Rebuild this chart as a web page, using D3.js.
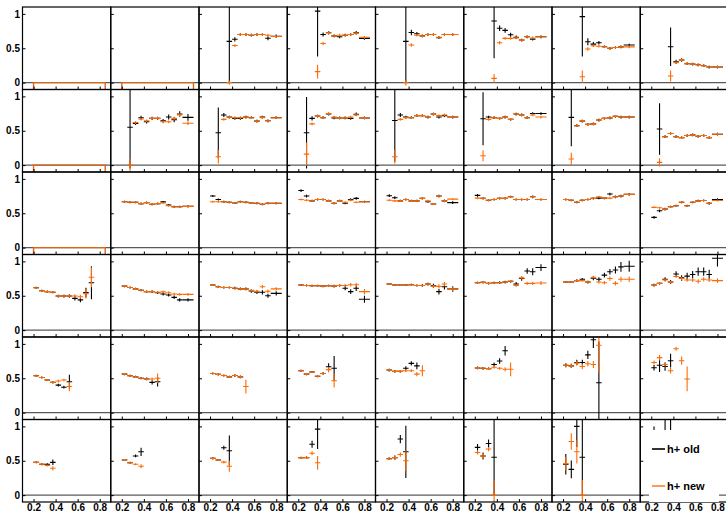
<!DOCTYPE html>
<html><head><meta charset="utf-8">
<script src="https://cdn.jsdelivr.net/npm/d3@7"></script>
<style>body{margin:0;background:#fff}svg{display:block}</style>
</head><body><svg id="c" width="726" height="514"></svg>
<script>
const n = null;
const binCenters = [0.225,0.275,0.325,0.375,0.425,0.475,0.525,0.575,0.625,0.675,0.725,0.8];
const binHalf    = [0.025,0.025,0.025,0.025,0.025,0.025,0.025,0.025,0.025,0.025,0.025,0.05];
const xTicks = [0.2,0.4,0.6,0.8];
const xTickLabels = ["0.2","0.4","0.6","0.8"];
const yTicks = [0,0.5,1];
const yTickLabels = ["0","0.5","1"];
const seriesNames = ["h+ old","h+ new"];
const emptyPanels = [[0,0],[0,1],[1,0],[2,0]];
const emptyRange = [0.2,0.85];

// ---- row 1
const oldR1 = [[],[],
 [n,n,n,0.6,0.63,0.70,0.70,0.69,0.70,0.70,0.645,0.675],
 [n,n,n,1.04,0.70,0.726,0.68,0.667,0.69,0.70,0.726,0.644],
 [n,n,n,0.6,0.73,0.71,0.68,0.70,0.70,0.653,0.70,0.70],
 [n,n,n,0.896,0.79,0.76,0.697,0.66,0.62,0.667,0.633,0.667],
 [n,n,n,0.96,0.595,0.56,0.58,0.522,0.50,0.51,0.52,0.547],
 [n,n,n,0.522,0.304,0.33,0.275,0.27,0.26,0.246,0.227,0.227]];
const oldErrR1 = [[],[],
 [n,n,n,0.6,0.03,0.02,0.02,0.02,0.02,0.02,0.03,0.025],
 [n,n,n,0.66,0.03,0.025,0.02,0.02,0.02,0.02,0.025,0.02],
 [n,n,n,0.6,0.04,0.025,0.02,0.02,0.02,0.02,0.02,0.02],
 [n,n,n,0.54,0.04,0.035,0.03,0.025,0.02,0.02,0.02,0.02],
 [n,n,n,0.58,0.05,0.03,0.025,0.02,0.02,0.02,0.02,0.02],
 [n,n,n,0.28,0.03,0.025,0.02,0.02,0.02,0.02,0.02,0.02]];
const newR1 = [[],[],
 [n,n,n,0.0,0.54,0.70,0.70,0.69,0.70,0.70,0.69,0.67],
 [n,n,n,0.16,0.57,0.726,0.68,0.69,0.69,0.70,0.716,0.66],
 [n,n,n,0.0,0.547,0.69,0.68,0.70,0.70,0.66,0.70,0.70],
 [n,n,n,0.062,0.58,0.644,0.644,0.65,0.62,0.667,0.65,0.667],
 [n,n,n,0.086,0.49,0.537,0.53,0.522,0.50,0.51,0.52,0.52],
 [n,n,n,0.096,0.29,0.33,0.275,0.27,0.26,0.246,0.227,0.227]];
const newErrR1 = [[],[],
 [n,n,n,0.03,0.02,0.02,0.02,0.02,0.02,0.02,0.02,0.02],
 [n,n,n,0.1,0.025,0.02,0.02,0.02,0.02,0.02,0.02,0.02],
 [n,n,n,0.04,0.025,0.02,0.02,0.02,0.02,0.02,0.02,0.02],
 [n,n,n,0.063,0.025,0.02,0.02,0.02,0.02,0.02,0.02,0.02],
 [n,n,n,0.09,0.025,0.02,0.02,0.02,0.02,0.02,0.02,0.02],
 [n,n,n,0.08,0.02,0.02,0.02,0.02,0.02,0.02,0.02,0.02]];

// ---- row 2
const oldR2 = [[],
 [n,0.55,0.608,0.69,0.63,0.68,0.68,0.645,0.70,0.66,0.743,0.695],
 [n,0.47,0.73,0.70,0.68,0.68,0.70,0.69,0.64,0.70,0.645,0.69],
 [n,0.47,0.68,0.714,0.69,0.743,0.686,0.686,0.686,0.68,0.74,0.686],
 [n,0.65,0.73,0.70,0.69,0.72,0.72,0.70,0.743,0.70,0.72,0.70],
 [n,0.675,0.70,0.69,0.68,0.70,0.665,0.743,0.73,0.69,0.75,0.75],
 [n,0.695,0.573,0.64,0.593,0.60,0.656,0.68,0.686,0.71,0.70,0.70],
 [n,0.525,0.413,0.46,0.413,0.40,0.43,0.44,0.42,0.43,0.40,0.45]];
const oldErrR2 = [[],
 [n,0.6,0.025,0.03,0.025,0.025,0.025,0.025,0.035,0.035,0.04,0.05],
 [n,0.37,0.03,0.02,0.02,0.02,0.02,0.02,0.02,0.02,0.02,0.02],
 [n,0.52,0.03,0.02,0.02,0.02,0.02,0.02,0.02,0.02,0.025,0.02],
 [n,0.6,0.03,0.02,0.02,0.02,0.02,0.02,0.02,0.02,0.02,0.02],
 [n,0.385,0.02,0.02,0.02,0.02,0.02,0.02,0.02,0.02,0.02,0.02],
 [n,0.42,0.02,0.02,0.02,0.02,0.02,0.02,0.02,0.02,0.02,0.02],
 [n,0.375,0.02,0.02,0.02,0.02,0.02,0.02,0.02,0.02,0.02,0.02]];
const newR2 = [[],
 [n,0.0,0.62,0.67,0.645,0.68,0.68,0.63,0.63,0.68,0.73,0.61],
 [n,0.122,0.666,0.70,0.69,0.69,0.70,0.69,0.64,0.69,0.645,0.69],
 [n,0.16,0.60,0.714,0.69,0.75,0.70,0.686,0.686,0.70,0.73,0.686],
 [n,0.122,0.666,0.69,0.69,0.72,0.72,0.70,0.743,0.72,0.73,0.70],
 [n,0.137,0.666,0.69,0.68,0.70,0.665,0.743,0.73,0.69,0.73,0.70],
 [n,0.09,0.573,0.64,0.593,0.60,0.656,0.68,0.686,0.71,0.70,0.70],
 [n,0.04,0.413,0.46,0.413,0.40,0.43,0.44,0.42,0.43,0.40,0.45]];
const newErrR2 = [[],
 [n,0.09,0.02,0.02,0.02,0.02,0.02,0.02,0.02,0.025,0.025,0.03],
 [n,0.1,0.02,0.02,0.02,0.02,0.02,0.02,0.02,0.02,0.02,0.02],
 [n,0.17,0.02,0.02,0.02,0.02,0.02,0.02,0.02,0.02,0.02,0.02],
 [n,0.1,0.02,0.02,0.02,0.02,0.02,0.02,0.02,0.02,0.02,0.02],
 [n,0.08,0.02,0.02,0.02,0.02,0.02,0.02,0.02,0.02,0.02,0.02],
 [n,0.09,0.02,0.02,0.02,0.02,0.02,0.02,0.02,0.02,0.02,0.02],
 [n,0.06,0.02,0.02,0.02,0.02,0.02,0.02,0.02,0.02,0.02,0.02]];

// ---- row 3
const oldR3 = [[],
 [0.667,0.66,0.66,0.64,0.655,0.63,0.64,0.665,0.62,0.595,0.595,0.60],
 [0.75,0.70,0.667,0.66,0.65,0.667,0.66,0.65,0.645,0.63,0.645,0.645],
 [0.83,0.75,0.68,0.70,0.70,0.68,0.645,0.68,0.645,0.70,0.716,0.667],
 [0.755,0.726,0.68,0.70,0.68,0.68,0.716,0.667,0.634,0.75,0.68,0.655],
 [0.76,0.716,0.69,0.70,0.716,0.716,0.74,0.70,0.70,0.70,0.74,0.70],
 [0.70,0.69,0.66,0.69,0.70,0.716,0.72,0.72,0.78,0.74,0.75,0.775],
 [0.44,0.536,0.56,0.595,0.61,0.66,0.61,0.66,0.68,0.685,0.645,0.70]];
const oldErrR3 = [[],
 [0.015,0.015,0.015,0.015,0.015,0.015,0.015,0.015,0.015,0.015,0.015,0.015],
 [0.015,0.015,0.015,0.015,0.015,0.015,0.015,0.015,0.015,0.015,0.015,0.015],
 [0.02,0.02,0.015,0.015,0.015,0.015,0.015,0.015,0.015,0.02,0.02,0.015],
 [0.02,0.02,0.015,0.015,0.015,0.015,0.015,0.015,0.015,0.02,0.02,0.02],
 [0.02,0.015,0.015,0.015,0.015,0.015,0.015,0.015,0.015,0.015,0.02,0.015],
 [0.015,0.015,0.015,0.015,0.015,0.015,0.015,0.015,0.02,0.02,0.02,0.02],
 [0.02,0.02,0.02,0.015,0.015,0.015,0.015,0.015,0.015,0.015,0.02,0.02]];
const newR3 = [[],
 [0.667,0.66,0.66,0.64,0.655,0.63,0.64,0.65,0.61,0.595,0.595,0.60],
 [0.667,0.667,0.667,0.66,0.65,0.667,0.66,0.65,0.645,0.63,0.645,0.645],
 [0.70,0.69,0.68,0.70,0.70,0.68,0.645,0.68,0.66,0.69,0.66,0.667],
 [0.69,0.68,0.68,0.70,0.68,0.68,0.716,0.68,0.634,0.75,0.68,0.705],
 [0.72,0.716,0.69,0.70,0.716,0.716,0.74,0.70,0.70,0.70,0.74,0.70],
 [0.70,0.69,0.66,0.69,0.70,0.716,0.74,0.72,0.72,0.74,0.75,0.775],
 [0.586,0.58,0.56,0.595,0.61,0.66,0.61,0.66,0.68,0.685,0.645,0.685]];
const newErrR3 = [[],
 [0.015,0.015,0.015,0.015,0.015,0.015,0.015,0.015,0.015,0.015,0.015,0.015],
 [0.015,0.015,0.015,0.015,0.015,0.015,0.015,0.015,0.015,0.015,0.015,0.015],
 [0.015,0.015,0.015,0.015,0.015,0.015,0.015,0.015,0.015,0.015,0.015,0.015],
 [0.015,0.015,0.015,0.015,0.015,0.015,0.015,0.015,0.015,0.015,0.015,0.015],
 [0.015,0.015,0.015,0.015,0.015,0.015,0.015,0.015,0.015,0.015,0.015,0.015],
 [0.015,0.015,0.015,0.015,0.015,0.015,0.015,0.015,0.015,0.015,0.015,0.015],
 [0.015,0.015,0.015,0.015,0.015,0.015,0.015,0.015,0.015,0.015,0.015,0.015]];

// ---- row 4
const oldR4 = [
 [0.617,0.573,0.56,0.55,0.496,0.496,0.496,0.462,0.44,0.545,0.69,n],
 [0.64,0.62,0.60,0.58,0.56,0.56,0.544,0.525,0.51,0.477,0.44,0.44],
 [0.656,0.63,0.62,0.62,0.61,0.60,0.60,0.57,0.55,0.55,0.50,0.535],
 [0.656,0.65,0.645,0.645,0.64,0.645,0.64,0.65,0.61,0.56,0.61,0.45],
 [0.67,0.656,0.656,0.656,0.66,0.65,0.65,0.67,0.645,0.56,0.63,0.60],
 [0.69,0.695,0.68,0.69,0.69,0.70,0.71,0.67,0.75,0.86,0.85,0.91],
 [0.70,0.70,0.72,0.74,0.70,0.755,0.74,0.80,0.85,0.874,0.92,0.93],
 [0.656,0.68,0.74,0.70,0.816,0.76,0.785,0.81,0.85,0.85,0.81,1.045]];
const oldErrR4 = [
 [0.015,0.015,0.015,0.015,0.02,0.02,0.025,0.03,0.035,0.07,0.24,n],
 [0.015,0.015,0.015,0.015,0.015,0.02,0.02,0.02,0.02,0.025,0.025,0.025],
 [0.015,0.015,0.015,0.015,0.02,0.02,0.02,0.025,0.025,0.03,0.03,0.03],
 [0.015,0.015,0.015,0.015,0.015,0.015,0.02,0.02,0.03,0.035,0.04,0.05],
 [0.015,0.015,0.015,0.015,0.015,0.015,0.02,0.02,0.03,0.04,0.04,0.04],
 [0.015,0.015,0.015,0.015,0.02,0.02,0.02,0.03,0.03,0.04,0.05,0.05],
 [0.015,0.015,0.02,0.02,0.02,0.03,0.03,0.035,0.04,0.05,0.07,0.08],
 [0.02,0.02,0.03,0.03,0.04,0.04,0.05,0.05,0.06,0.06,0.07,0.12]];
const newR4 = [
 [0.617,0.573,0.56,0.55,0.496,0.496,0.50,0.496,0.486,0.53,0.77,n],
 [0.64,0.62,0.60,0.58,0.56,0.56,0.55,0.556,0.544,0.525,0.52,0.52],
 [0.656,0.63,0.62,0.62,0.61,0.60,0.60,0.58,0.565,0.63,0.565,0.60],
 [0.656,0.65,0.645,0.645,0.64,0.645,0.64,0.65,0.65,0.66,0.66,0.56],
 [0.67,0.656,0.656,0.656,0.66,0.65,0.65,0.67,0.636,0.636,0.67,0.60],
 [0.69,0.695,0.68,0.69,0.69,0.70,0.71,0.65,0.76,0.68,0.68,0.685],
 [0.70,0.70,0.72,0.72,0.70,0.77,0.70,0.69,0.75,0.68,0.74,0.74],
 [0.656,0.68,0.73,0.70,0.78,0.75,0.73,0.73,0.71,0.74,0.73,0.72]];
const newErrR4 = [
 [0.015,0.015,0.015,0.015,0.02,0.02,0.02,0.025,0.03,0.07,0.145,n],
 [0.015,0.015,0.015,0.015,0.015,0.015,0.015,0.02,0.02,0.02,0.02,0.02],
 [0.015,0.015,0.015,0.015,0.015,0.015,0.02,0.02,0.02,0.025,0.025,0.025],
 [0.015,0.015,0.015,0.015,0.015,0.015,0.015,0.02,0.02,0.025,0.03,0.04],
 [0.015,0.015,0.015,0.015,0.015,0.015,0.015,0.02,0.02,0.03,0.03,0.03],
 [0.015,0.015,0.015,0.015,0.015,0.015,0.02,0.02,0.02,0.025,0.025,0.03],
 [0.015,0.015,0.015,0.015,0.02,0.02,0.02,0.025,0.03,0.03,0.035,0.04],
 [0.02,0.02,0.02,0.02,0.02,0.025,0.025,0.03,0.03,0.03,0.03,0.035]];

// ---- row 5
const oldR5 = [
 [0.537,0.51,0.474,0.44,0.40,0.37,0.45],
 [0.56,0.537,0.52,0.50,0.49,0.44,0.45],
 [0.57,0.556,0.54,0.52,0.54,0.52,n],
 [0.61,0.56,0.59,0.53,0.57,0.667,0.645],
 [0.62,0.60,0.60,0.645,0.717,0.68,n],
 [0.65,0.645,0.64,0.70,0.75,0.90,n],
 [0.69,0.68,0.73,0.73,0.84,1.06,0.435],
 [0.653,0.69,0.67,0.755,n,n,n]];
const oldErrR5 = [
 [0.015,0.015,0.015,0.015,0.02,0.02,0.1],
 [0.015,0.015,0.015,0.015,0.02,0.03,0.07],
 [0.015,0.015,0.015,0.015,0.02,0.02,n],
 [0.015,0.015,0.015,0.015,0.02,0.05,0.18],
 [0.02,0.02,0.02,0.03,0.03,0.05,n],
 [0.02,0.02,0.02,0.03,0.04,0.07,n],
 [0.03,0.03,0.04,0.04,0.06,0.12,0.6],
 [0.04,0.1,0.06,0.1,n,n,n]];
const newR5 = [
 [0.537,0.51,0.474,0.44,0.46,0.474,0.38],
 [0.56,0.537,0.52,0.50,0.49,0.49,0.50],
 [0.57,0.556,0.54,0.52,0.54,0.52,0.38],
 [0.61,0.56,0.59,0.53,0.57,0.625,0.464],
 [0.62,0.60,0.60,0.61,0.61,0.56,0.61],
 [0.65,0.645,0.64,0.66,0.645,0.63,0.63],
 [0.69,0.68,0.72,0.67,0.71,0.70,0.98],
 [0.73,0.80,0.70,0.61,0.93,0.755,0.49]];
const newErrR5 = [
 [0.015,0.015,0.015,0.015,0.02,0.02,0.07],
 [0.015,0.015,0.015,0.015,0.02,0.02,0.07],
 [0.015,0.015,0.015,0.015,0.02,0.02,0.1],
 [0.015,0.015,0.015,0.015,0.02,0.04,0.1],
 [0.02,0.02,0.02,0.02,0.02,0.03,0.08],
 [0.02,0.02,0.02,0.02,0.02,0.03,0.1],
 [0.03,0.03,0.03,0.04,0.04,0.05,0.4],
 [0.03,0.04,0.03,0.04,0.03,0.06,0.18]];

// ---- row 6
const oldR6 = [
 [0.477,0.45,0.45,0.477],
 [0.51,0.47,0.57,0.63],
 [0.535,0.51,0.69,0.646],
 [0.545,0.545,0.74,0.96],
 [0.53,0.545,0.816,0.63],
 [0.695,0.57,0.75,0.55],
 [0.45,0.375,1.0,0.55],
 [0.75,n,0.85,0.9]];
const oldErrR6 = [
 [0.015,0.015,0.015,0.04],
 [0.015,0.015,0.02,0.06],
 [0.015,0.015,0.03,0.22],
 [0.015,0.02,0.05,0.29],
 [0.02,0.03,0.06,0.38],
 [0.05,0.05,0.06,0.55],
 [0.15,0.13,0.3,0.55],
 [0.25,n,0.3,0.3]];
const newR6 = [
 [0.477,0.45,0.43,0.39],
 [0.51,0.47,0.45,0.42],
 [0.535,0.51,0.48,0.42],
 [0.545,0.545,0.61,0.47],
 [0.53,0.545,0.59,0.50],
 [0.62,0.57,0.67,0.0],
 [0.46,0.78,0.63,0.0],
 [0.70,0.65,0.70,0.60]];
const newErrR6 = [
 [0.015,0.015,0.015,0.03],
 [0.015,0.015,0.015,0.03],
 [0.015,0.015,0.02,0.08],
 [0.015,0.02,0.03,0.1],
 [0.02,0.03,0.03,0.15],
 [0.03,0.04,0.03,0.22],
 [0.1,0.12,0.17,0.22],
 [0.05,0.05,0.05,0.05]];

const oldRows = [oldR1,oldR2,oldR3,oldR4,oldR5,oldR6];
const oldErrRows = [oldErrR1,oldErrR2,oldErrR3,oldErrR4,oldErrR5,oldErrR6];
const newRows = [newR1,newR2,newR3,newR4,newR5,newR6];
const newErrRows = [newErrR1,newErrR2,newErrR3,newErrR4,newErrR5,newErrR6];

const colors = {old:"#000000", neu:"#ff6a00"};
const FONT = "'Liberation Sans', Arial, Helvetica, sans-serif";

const svg = d3.select("#c");
const W = 88.25, H = 82.5, X0 = 22.5, Y0 = 7;
const NR = 6, NC = 8;
const x = d3.scaleLinear().domain([0.1,0.9]).range([0,W]);
const y = d3.scaleLinear().domain([-0.1,1.1]).range([H,0]);

svg.append("defs").append("clipPath").attr("id","pc")
  .append("rect").attr("x",0).attr("y",0).attr("width",W).attr("height",H);

function drawSeries(g, vals, errs, color){
  const pts = binCenters.map((c,i)=>({c, hw:binHalf[i], v: vals[i], e: errs[i]}))
    .filter(p => p.v !== null && p.v !== undefined);
  const s = g.append("g").attr("stroke",color).attr("stroke-width",1.1).attr("fill","none");
  s.selectAll("line.h").data(pts).join("line").attr("class","h")
    .attr("x1",p=>x(p.c-p.hw)).attr("x2",p=>x(p.c+p.hw))
    .attr("y1",p=>y(p.v)).attr("y2",p=>y(p.v));
  s.selectAll("line.v").data(pts).join("line").attr("class","v")
    .attr("x1",p=>x(p.c)).attr("x2",p=>x(p.c))
    .attr("y1",p=>y(p.v-(p.e||0))).attr("y2",p=>y(p.v+(p.e||0)));
}

for(let r=0;r<NR;r++){
  for(let c=0;c<NC;c++){
    const g = svg.append("g").attr("transform",`translate(${X0+c*W},${Y0+r*H})`);
    // zero line
    g.append("line").attr("x1",0).attr("x2",W).attr("y1",y(0)).attr("y2",y(0))
      .attr("stroke","#5a5a5a").attr("stroke-width",1.4);
    const d = g.append("g").attr("clip-path","url(#pc)");
    if(emptyPanels.some(p=>p[0]===r && p[1]===c)){
      d.append("path")
        .attr("d", d3.line()([[x(emptyRange[0]),y(-0.1)],[x(emptyRange[0]),y(0)],[x(emptyRange[1]),y(0)],[x(emptyRange[1]),y(-0.1)]]))
        .attr("fill","none").attr("stroke","#e2640f").attr("stroke-width",1.4);
    }
    drawSeries(d, oldRows[r][c]||[], oldErrRows[r][c]||[], colors.old);
    drawSeries(d, newRows[r][c]||[], newErrRows[r][c]||[], colors.neu);

    // frame
    g.append("rect").attr("x",0).attr("y",0).attr("width",W).attr("height",H)
      .attr("fill","none").attr("stroke","#000").attr("stroke-width",1.2);

    // x axis (ticks inward)
    const xa = d3.axisBottom(x).tickValues(xTicks).tickSize(-3).tickSizeOuter(0).tickPadding(2)
      .tickFormat((v,i)=> r===NR-1 ? xTickLabels[i] : "");
    const gx = g.append("g").attr("transform",`translate(0,${H})`).call(xa);
    gx.select(".domain").remove();
    gx.selectAll("line").attr("stroke","#000");
    gx.selectAll("text").attr("font-family",FONT).attr("font-size",10).attr("font-weight","bold").attr("fill","#000");

    // y axis
    const ya = d3.axisLeft(y).tickValues(yTicks).tickSize(-3).tickSizeOuter(0).tickPadding(2.5)
      .tickFormat((v,i)=> c===0 ? yTickLabels[i] : "");
    const gy = g.append("g").call(ya);
    gy.select(".domain").remove();
    gy.selectAll("line").attr("stroke","#000");
    gy.selectAll("text").attr("font-family",FONT).attr("font-size",10).attr("font-weight","bold").attr("fill","#000");
  }
}

// legend
const lg = svg.append("g");
lg.append("rect").attr("x",649).attr("y",430).attr("width",70).attr("height",72).attr("fill","#fff");
const legendItems = [{name:seriesNames[0], color:"#333", y:449},{name:seriesNames[1], color:"#ff9a5c", y:486}];
legendItems.forEach(it=>{
  lg.append("line").attr("x1",652).attr("x2",665).attr("y1",it.y).attr("y2",it.y)
    .attr("stroke",it.color).attr("stroke-width",2);
  lg.append("text").attr("x",667).attr("y",it.y+4).text(it.name)
    .attr("font-family",FONT).attr("font-size",11).attr("font-weight","bold").attr("fill","#000");
});
</script></body></html>
